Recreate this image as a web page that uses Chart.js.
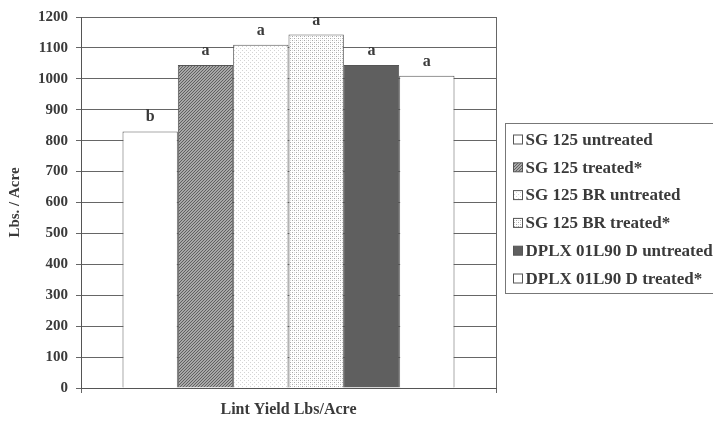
<!DOCTYPE html>
<html lang="en">
<head>
    <meta charset="UTF-8">
    <title>Lint Yield Lbs/Acre</title>
    <script src="https://cdn.jsdelivr.net/npm/chart.js"></script>
    <style>
        body {
            margin: 0;
            background-color: white;
        }
        #box {
            width: 713px;
            height: 422px;
        }
    </style>
</head>
<body>

<div id="box">
    <canvas id="myChart" width="713" height="422"></canvas>
</div>

<script>
    // data
    var categories = [''];
    var varieties = ['SG 125 untreated', 'SG 125 treated*', 'SG 125 BR untreated',
                     'SG 125 BR treated*', 'DPLX 01L90 D untreated', 'DPLX 01L90 D treated*'];
    var yieldValues = [830, 1045, 1110, 1143, 1045, 1010];
    var sigLetters = ['b', 'a', 'a', 'a', 'a', 'a'];
    var yTicks = [0, 100, 200, 300, 400, 500, 600, 700, 800, 900, 1000, 1100, 1200];

    var textColor = '#3a3a3a';
    var serif = "'Liberation Serif', 'Times New Roman', serif";

    // small tiles used as bar fills
    function makePattern(size, bg, draw) {
        var c = document.createElement('canvas');
        c.width = size;
        c.height = size;
        var g = c.getContext('2d');
        g.fillStyle = bg;
        g.fillRect(0, 0, size, size);
        draw(g);
        return g.createPattern(c, 'repeat');
    }

    var hatchDiag = makePattern(3, '#a8a8a8', function (g) {
        g.fillStyle = '#606060';
        g.fillRect(2, 0, 1, 1);
        g.fillRect(1, 1, 1, 1);
        g.fillRect(0, 2, 1, 1);
    });
    var dotsLight = makePattern(4, '#ffffff', function (g) {
        g.fillStyle = '#d4d4d4';
        g.fillRect(0, 0, 1, 1);
        g.fillRect(2, 2, 1, 1);
    });
    var dotsDark = makePattern(4, '#ffffff', function (g) {
        g.fillStyle = '#a8a8a8';
        g.fillRect(0, 0, 1, 1);
        g.fillRect(2, 2, 1, 1);
        g.fillStyle = '#dddddd';
        g.fillRect(2, 0, 1, 1);
        g.fillRect(0, 2, 1, 1);
    });

    var fills = ['#ffffff', hatchDiag, dotsLight, dotsDark, '#5f5f5f', '#ffffff'];

    var datasets = [];
    for (var i = 0; i < varieties.length; i++) {
        datasets.push({
            label: varieties[i],
            data: [yieldValues[i]],
            backgroundColor: fills[i],
            borderColor: '#555555',
            borderWidth: 1,
            categoryPercentage: 0.8,
            barPercentage: 1.0
        });
    }

    // letters above the bars
    var letterPlugin = {
        id: 'letters',
        afterDatasetsDraw: function (chart) {
            var ctx = chart.ctx;
            ctx.save();
            ctx.font = 'bold 16px ' + serif;
            ctx.fillStyle = textColor;
            ctx.textAlign = 'center';
            ctx.textBaseline = 'alphabetic';
            for (var i = 0; i < sigLetters.length; i++) {
                var bar = chart.getDatasetMeta(i).data[0];
                ctx.fillText(sigLetters[i], bar.x, bar.y - 10);
            }
            ctx.restore();
        }
    };

    // boxed legend on the right, it runs off the edge like the original
    var legendPlugin = {
        id: 'boxLegend',
        afterDraw: function (chart) {
            var ctx = chart.ctx;
            var left = chart.chartArea.right + 9.5;
            var top = 123.5;
            var rowH = 27.8;
            ctx.save();
            ctx.strokeStyle = '#777777';
            ctx.lineWidth = 1;
            ctx.strokeRect(left, top, 260, 170);
            ctx.font = 'bold 17px ' + serif;
            ctx.textBaseline = 'middle';
            for (var i = 0; i < chart.data.datasets.length; i++) {
                var ds = chart.data.datasets[i];
                var cy = top + 16 + i * rowH;
                ctx.fillStyle = ds.backgroundColor;
                ctx.fillRect(left + 8, cy - 4.5, 9, 9);
                ctx.strokeStyle = '#555555';
                ctx.strokeRect(left + 8, cy - 4.5, 9, 9);
                ctx.fillStyle = textColor;
                ctx.fillText(ds.label, left + 20, cy + 1);
            }
            ctx.restore();
        }
    };

    var ctx = document.getElementById('myChart').getContext('2d');

    var myChart = new Chart(ctx, {
        type: 'bar',
        data: {
            labels: categories,
            datasets: datasets
        },
        options: {
            responsive: false,
            animation: false,
            layout: {
                padding: { top: 17, right: 217, bottom: 0, left: 6 }
            },
            plugins: {
                legend: { display: false },
                tooltip: { enabled: false }
            },
            scales: {
                x: {
                    offset: true,
                    grid: {
                        offset: true,
                        color: '#666666',
                        tickLength: 5
                    },
                    border: { color: '#555555' },
                    ticks: { display: false },
                    title: {
                        display: true,
                        text: 'Lint Yield Lbs/Acre',
                        color: textColor,
                        font: { family: serif, size: 16, weight: 'bold' },
                        padding: { top: 0, bottom: 3 }
                    },
                    afterFit: function (scale) {
                        scale.height = 422 - 388;
                    }
                },
                y: {
                    min: 0,
                    max: 1200,
                    afterBuildTicks: function (scale) {
                        scale.ticks = yTicks.map(function (v) { return { value: v }; });
                    },
                    grid: {
                        color: '#666666',
                        tickLength: 5
                    },
                    border: { color: '#555555' },
                    ticks: {
                        color: textColor,
                        padding: 8,
                        font: { family: serif, size: 15, weight: 'bold' },
                        callback: function (v) { return String(v); }
                    },
                    title: {
                        display: true,
                        text: 'Lbs. / Acre',
                        color: textColor,
                        font: { family: serif, size: 15, weight: 'bold' },
                        padding: 0
                    },
                    afterFit: function (scale) {
                        scale.width = 81 - 6;
                    }
                }
            }
        },
        plugins: [letterPlugin, legendPlugin]
    });
</script>

</body>
</html>
